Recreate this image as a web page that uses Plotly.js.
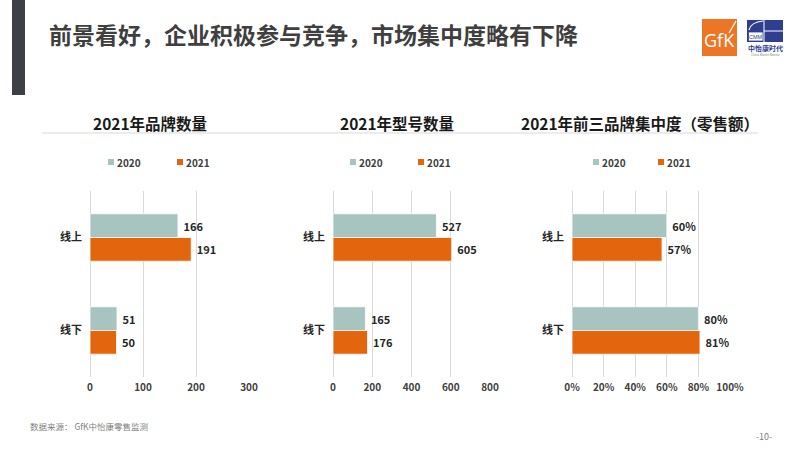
<!DOCTYPE html>
<html>
<head>
<meta charset="utf-8">
<script src="https://cdn.plot.ly/plotly-3.0.1.min.js"></script>
<style>
  html, body { margin: 0; padding: 0; background: #ffffff; }
  #chart { width: 800px; height: 450px; }
</style>
</head>
<body>
<div id="chart"></div>
<script>
// ---------- data ----------
const categories = ['线上', '线下'];
const years = ['2020', '2021'];
const brandCount2020 = [166, 51];
const brandCount2021 = [191, 50];
const modelCount2020 = [527, 165];
const modelCount2021 = [605, 176];
const top3Share2020 = [0.60, 0.80];
const top3Share2021 = [0.57, 0.81];
const chartTitles = ['2021年品牌数量', '2021年型号数量', '2021年前三品牌集中度（零售额）'];
const brandTicks = [0, 100, 200, 300];
const modelTicks = [0, 200, 400, 600, 800];
const shareTicks = [0, 0.2, 0.4, 0.6, 0.8, 1.0];
const mainTitle = '前景看好，企业积极参与竞争，市场集中度略有下降';
const sourceNote = '数据来源： GfK中怡康零售监测';
const pageNumber = '-10-';

// ---------- style ----------
const FONT = '"Noto Sans CJK SC", "Noto Sans", sans-serif';
const C2020 = '#a8c4c1';
const C2021 = '#e3660f';
const W = 800, H = 450;
const px = x => x / W;
const py = y => 1 - y / H;

const panels = [
  { x0: 90,  x1: 249, range: [0, 300], ticks: brandTicks, fmt: '', titleX: 150, legX: [108, 177],
    v2020: brandCount2020, v2021: brandCount2021 },
  { x0: 333, x1: 490, range: [0, 800], ticks: modelTicks, fmt: '', titleX: 397, legX: [350, 418],
    v2020: modelCount2020, v2021: modelCount2021 },
  { x0: 572, x1: 730, range: [0, 1], ticks: shareTicks, fmt: '.0%', titleX: 640, legX: [593, 658],
    v2020: top3Share2020, v2021: top3Share2021 }
];
const plotTop = 191, plotBottom = 377;

const data = [];
const layout = {
  width: W, height: H,
  margin: { l: 0, r: 0, t: 0, b: 0 },
  paper_bgcolor: '#ffffff', plot_bgcolor: 'rgba(0,0,0,0)',
  font: { family: FONT, color: '#404040' },
  showlegend: false,
  barmode: 'group',
  bargap: 0.49,
  bargroupgap: 0,
  annotations: [],
  shapes: []
};

panels.forEach((p, i) => {
  const n = i === 0 ? '' : String(i + 1);
  const xa = 'x' + n, ya = 'y' + n;
  const tmpl = p.fmt ? ' %{x:' + p.fmt + '}' : ' %{x}';
  [[p.v2020, C2020, years[0]], [p.v2021, C2021, years[1]]].forEach(([vals, col, name]) => {
    data.push({
      type: 'bar', orientation: 'h', name: name,
      x: vals, y: categories, xaxis: xa, yaxis: ya,
      marker: { color: col, line: { color: '#ffffff', width: 0.8 } },
      texttemplate: tmpl, textposition: 'outside', cliponaxis: false,
      textfont: { family: FONT, size: 11, color: '#262626', weight: 'bold' },
      hoverinfo: 'skip'
    });
  });
  layout['xaxis' + n] = {
    domain: [px(p.x0), px(p.x1)], anchor: ya, range: p.range,
    tickvals: p.ticks, tickformat: p.fmt,
    showgrid: true, gridcolor: '#d9d9d9', gridwidth: 1,
    zeroline: true, zerolinecolor: '#d9d9d9', zerolinewidth: 1,
    showline: false, ticks: '', ticklabelstandoff: 3,
    tickfont: { family: FONT, size: 10, color: '#404040', weight: 'bold' },
    fixedrange: true
  };
  layout['yaxis' + n] = {
    domain: [py(plotBottom), py(plotTop)], anchor: xa,
    type: 'category', categoryarray: categories, categoryorder: 'array',
    range: [1.5, -0.5],
    showgrid: false, zeroline: false, showline: false, ticks: '',
    ticklabelstandoff: 7,
    tickfont: { family: FONT, size: 11, color: '#262626', weight: 'bold' },
    fixedrange: true
  };
  // panel title
  layout.annotations.push({
    xref: 'paper', yref: 'paper', x: px(p.titleX), y: py(123),
    xanchor: 'center', yanchor: 'middle', showarrow: false,
    text: chartTitles[i],
    font: { family: FONT, size: 15.5, color: '#1a1a1a', weight: 'bold' }
  });
  // legend (square + label)
  [[C2020, years[0]], [C2021, years[1]]].forEach(([col, name], k) => {
    const lx = p.legX[k];
    layout.shapes.push({
      type: 'rect', xref: 'paper', yref: 'paper',
      x0: px(lx), x1: px(lx + 6), y0: py(165), y1: py(159),
      fillcolor: col, line: { width: 0 }
    });
    layout.annotations.push({
      xref: 'paper', yref: 'paper', x: px(lx + 7), y: py(162),
      xanchor: 'left', yanchor: 'middle', showarrow: false,
      text: name,
      font: { family: FONT, size: 10, color: '#404040', weight: 'bold' }
    });
  });
});

// header bar
layout.shapes.push({
  type: 'rect', xref: 'paper', yref: 'paper',
  x0: px(12), x1: px(25), y0: py(95), y1: py(0),
  fillcolor: '#3d4045', line: { width: 0 }
});
// title underline
layout.shapes.push({
  type: 'line', xref: 'paper', yref: 'paper',
  x0: px(42), x1: px(758), y0: py(133), y1: py(133),
  line: { color: '#d9d9d9', width: 1 }
});
// GfK logo
layout.shapes.push({
  type: 'rect', xref: 'paper', yref: 'paper',
  x0: px(702), x1: px(737), y0: py(56), y1: py(19),
  fillcolor: '#ec7625', line: { width: 0 }
});
layout.shapes.push({
  type: 'line', xref: 'paper', yref: 'paper',
  x0: px(729), x1: px(736), y0: py(33), y1: py(21),
  line: { color: '#ffffff', width: 1.2 }
});
layout.annotations.push({
  xref: 'paper', yref: 'paper', x: px(719), y: py(40),
  xanchor: 'center', yanchor: 'middle', showarrow: false,
  text: 'GfK', font: { family: '"Open Sans", sans-serif', size: 18, color: '#ffffff' }
});
// CMM logo
layout.shapes.push({
  type: 'rect', xref: 'paper', yref: 'paper',
  x0: px(747), x1: px(783), y0: py(42), y1: py(20),
  fillcolor: '#2f3e8f', line: { width: 0 }
});
layout.shapes.push({
  type: 'rect', xref: 'paper', yref: 'paper',
  x0: px(748.5), x1: px(763), y0: py(41), y1: py(32),
  fillcolor: '#ffffff', line: { color: '#2f3e8f', width: 0.8 }
});
layout.shapes.push({
  type: 'line', xref: 'paper', yref: 'paper',
  x0: px(764), x1: px(764), y0: py(42), y1: py(20),
  line: { color: '#ffffff', width: 1 }
});
layout.shapes.push({
  type: 'line', xref: 'paper', yref: 'paper',
  x0: px(764), x1: px(783), y0: py(31), y1: py(31),
  line: { color: '#ffffff', width: 1 }
});
layout.shapes.push({
  type: 'path', xref: 'paper', yref: 'paper',
  path: 'M ' + px(749) + ',' + py(30) + ' Q ' + px(751) + ',' + py(22) + ' ' + px(763) + ',' + py(21),
  line: { color: '#ffffff', width: 1.2 }
});
layout.annotations.push({
  xref: 'paper', yref: 'paper', x: px(755.8), y: py(36.5),
  xanchor: 'center', yanchor: 'middle', showarrow: false,
  text: 'CMM', font: { family: '"Liberation Sans", sans-serif', size: 5.5, color: '#2f3e8f' }
});
layout.annotations.push({
  xref: 'paper', yref: 'paper', x: px(765), y: py(48),
  xanchor: 'center', yanchor: 'middle', showarrow: false,
  text: '中怡康时代', font: { family: FONT, size: 7, color: '#2f3e8f', weight: 'bold' }
});
layout.annotations.push({
  xref: 'paper', yref: 'paper', x: px(765), y: py(54.5),
  xanchor: 'center', yanchor: 'middle', showarrow: false,
  text: 'China Market Monitor', font: { family: '"Liberation Sans", sans-serif', size: 3, color: '#888888' }
});
// main title
layout.annotations.push({
  xref: 'paper', yref: 'paper', x: px(47), y: py(34),
  xanchor: 'left', yanchor: 'middle', showarrow: false,
  text: mainTitle,
  font: { family: FONT, size: 23, color: '#3f3f3f', weight: 'bold' }
});
// source note and page number
layout.annotations.push({
  xref: 'paper', yref: 'paper', x: px(28), y: py(426),
  xanchor: 'left', yanchor: 'middle', showarrow: false,
  text: sourceNote, font: { family: FONT, size: 8.5, color: '#7f7f7f' }
});
layout.annotations.push({
  xref: 'paper', yref: 'paper', x: px(774), y: py(436),
  xanchor: 'right', yanchor: 'middle', showarrow: false,
  text: pageNumber, font: { family: FONT, size: 9, color: '#7f7f7f' }
});

Plotly.newPlot('chart', data, layout, { displayModeBar: false, staticPlot: true });
</script>
</body>
</html>
